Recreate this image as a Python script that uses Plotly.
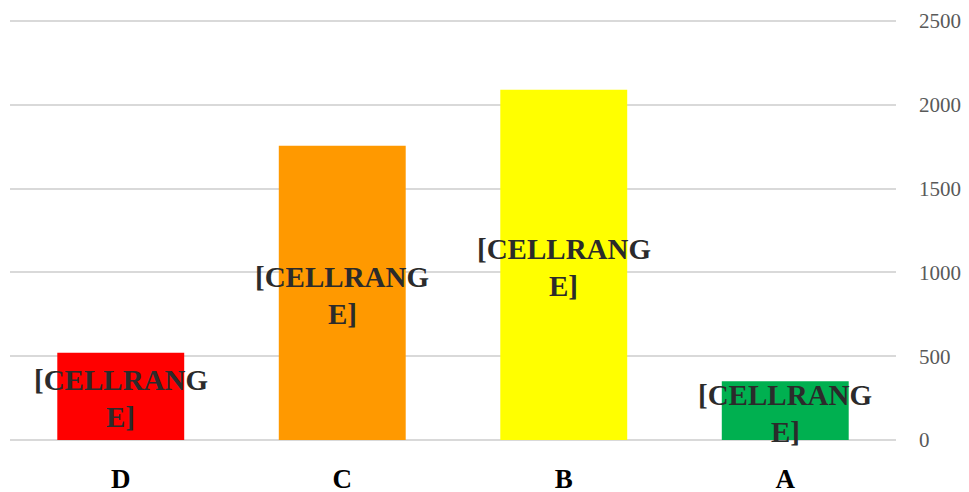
import plotly.graph_objects as go

categories = ["D", "C", "B", "A"]
values = [520, 1755, 2090, 350]
colors = ["#FF0000", "#FF9900", "#FFFF00", "#00B050"]
label_lines = ["[CELLRANG", "E]"]
y_ticks = [0, 500, 1000, 1500, 2000, 2500]

fig = go.Figure()
fig.add_trace(go.Bar(
    x=categories, y=values,
    marker=dict(color=colors, line=dict(width=0)),
    hoverinfo="x+y",
))

line_shifts = [16, -21]
annotations = []
for c, v in zip(categories, values):
    for line, shift in zip(label_lines, line_shifts):
        annotations.append(dict(
            x=c, y=v / 2, xref="x", yref="y",
            text=f"<b>{line}</b>", showarrow=False,
            yshift=shift,
            font=dict(family="Liberation Serif", size=29, color="#2B2B2B"),
        ))

fig.update_layout(
    width=969, height=492,
    margin=dict(l=10, r=73, t=18, b=49),
    paper_bgcolor="white", plot_bgcolor="white",
    bargap=0.427,
    showlegend=False,
    annotations=annotations,
    xaxis=dict(
        type="category", range=[-0.5, 3.5], automargin=False,
        showgrid=False, showline=False, zeroline=False,
        tickfont=dict(family="Liberation Serif", size=27, color="#000000"),
        tickprefix="<b>", ticksuffix="</b>",
        ticks="", ticklabelstandoff=17,
    ),
    yaxis=dict(
        side="right", range=[-18, 2518], automargin=False,
        tickvals=y_ticks,
        showgrid=True, gridcolor="#D9D9D9", gridwidth=1.5,
        zeroline=False, showline=False,
        tickfont=dict(family="Liberation Serif", size=21, color="#595959"),
        ticks="", ticklabelstandoff=22,
    ),
)

fig.write_html(
    "out.html",
    config={"displayModeBar": False},
    post_script="document.body.style.margin='0';document.body.style.padding='0';",
)
